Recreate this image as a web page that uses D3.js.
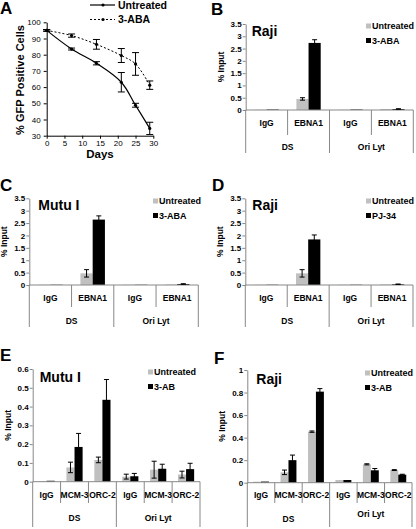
<!DOCTYPE html>
<html><head><meta charset="utf-8">
<script src="https://cdn.jsdelivr.net/npm/d3@7"></script>
<style>body{margin:0;background:#fff}svg{display:block;font-family:Arial,"Liberation Sans",sans-serif}</style>
</head><body><svg id="c" width="416" height="529"></svg>
<script>
// ---- Panel A data ----
const days = [0, 7, 14, 21, 25, 29];
const gfpUntreated = [95, 83.5, 74.7, 63, 48.8, 34.5];
const gfpUntreatedErr = [0.5, 0.6, 1, 6, 1.2, 3.8];
const gfpABA = [95, 91.8, 86.4, 79.5, 74.3, 61.2];
const gfpABAErr = [0.5, 1, 3, 4.3, 7, 2.6];
const gfpYTicks = [30, 40, 50, 60, 70, 80, 90, 100];
const gfpXTicks = [0, 5, 10, 15, 20, 25, 30];

// ---- B/C/D categories ----
const ebnaCats = ["IgG", "EBNA1", "IgG", "EBNA1"];
const groups = ["DS", "Ori Lyt"];
const ebnaYTicks = [0, 0.5, 1, 1.5, 2, 2.5, 3, 3.5];

// B Raji
const bUntreated = [0.01, 0.45, 0.01, 0.04];
const bUntreatedErr = [0, 0.05, 0, 0];
const bABA = [0.02, 2.73, 0.02, 0.04];
const bABAErr = [0, 0.13, 0, 0.01];
// C Mutu I
const cUntreated = [0.01, 0.47, 0.01, 0.02];
const cUntreatedErr = [0, 0.15, 0, 0];
const cABA = [0.01, 2.64, 0.01, 0.04];
const cABAErr = [0, 0.15, 0, 0.01];
// D Raji PJ-34
const dUntreated = [0.01, 0.47, 0.01, 0.02];
const dUntreatedErr = [0, 0.15, 0, 0];
const dPJ = [0.01, 1.84, 0.01, 0.03];
const dPJErr = [0, 0.18, 0, 0.01];

// ---- E/F categories ----
const mcmCats = ["IgG", "MCM-3", "ORC-2", "IgG", "MCM-3", "ORC-2"];
const eYTicks = [0, 0.1, 0.2, 0.3, 0.4, 0.5, 0.6];
const fYTicks = [0, 0.2, 0.4, 0.6, 0.8, 1];
// E Mutu I
const eUntreated = [0.003, 0.076, 0.116, 0.027, 0.064, 0.038];
const eUntreatedErr = [0, 0.028, 0.015, 0.013, 0.045, 0.018];
const eAB = [0.005, 0.185, 0.436, 0.029, 0.069, 0.067];
const eABErr = [0, 0.072, 0.108, 0.015, 0.024, 0.031];
// F Raji
const fUntreated = [0.009, 0.092, 0.453, 0.024, 0.163, 0.112];
const fUntreatedErr = [0, 0.02, 0.006, 0, 0.005, 0.004];
const fAB = [0.01, 0.2, 0.808, 0.024, 0.11, 0.071];
const fABErr = [0, 0.045, 0.027, 0, 0.016, 0.004];

const svg = d3.select("#c");
const GRAY = "#c0c0c0", AX = "#888";

function letter(t, x, y) {
  svg.append("text").attr("x", x).attr("y", y).text(t)
    .attr("font-size", 17).attr("font-weight", "bold");
}

// ================= Panel A =================
(function () {
  const x = d3.scaleLinear().domain([0, 30]).range([46.7, 153.3]);
  const y = d3.scaleLinear().domain([30, 100]).range([135.7, 22.3]);
  const g = svg.append("g");
  g.append("g").attr("transform", "translate(46.7,0)")
    .call(d3.axisLeft(y).tickValues(gfpYTicks).tickSize(3).tickSizeOuter(0))
    .call(a => { a.select(".domain").attr("stroke", "#000"); a.selectAll("text").attr("font-size", 8).attr("font-family", "Arial"); });
  g.append("g").attr("transform", "translate(0,135.7)")
    .call(d3.axisBottom(x).tickValues(gfpXTicks).tickSize(3).tickSizeOuter(0))
    .call(a => { a.select(".domain").attr("stroke", "#000"); a.selectAll("text").attr("font-size", 8).attr("font-family", "Arial").attr("dy", "0.6em"); });
  const line = d3.line().x((d, i) => x(days[i])).y(d => y(d)).curve(d3.curveCatmullRom.alpha(0.5));
  g.append("path").attr("d", line(gfpABA)).attr("fill", "none").attr("stroke", "#000").attr("stroke-width", 1).attr("stroke-dasharray", "2,2");
  g.append("path").attr("d", line(gfpUntreated)).attr("fill", "none").attr("stroke", "#000").attr("stroke-width", 1.2);
  function errs(vals, errv) {
    vals.forEach((v, i) => {
      const cx = x(days[i]), e = errv[i];
      const y1 = y(Math.max(30, v - e)), y2 = y(v + e);
      g.append("line").attr("x1", cx).attr("x2", cx).attr("y1", y1).attr("y2", y2).attr("stroke", "#000");
      [y1, y2].forEach(yy => g.append("line").attr("x1", cx - 3.5).attr("x2", cx + 3.5).attr("y1", yy).attr("y2", yy).attr("stroke", "#000"));
      g.append("circle").attr("cx", cx).attr("cy", y(v)).attr("r", 1.6).attr("fill", "#000");
    });
  }
  errs(gfpUntreated, gfpUntreatedErr);
  errs(gfpABA, gfpABAErr);
  // legend
  g.append("line").attr("x1", 90).attr("x2", 115).attr("y1", 5).attr("y2", 5).attr("stroke", "#000").attr("stroke-width", 1.2);
  g.append("circle").attr("cx", 103).attr("cy", 5).attr("r", 1.6);
  g.append("text").attr("x", 118).attr("y", 8.5).text("Untreated").attr("font-size", 10.5).attr("font-weight", "bold");
  g.append("line").attr("x1", 90).attr("x2", 115).attr("y1", 19.5).attr("y2", 19.5).attr("stroke", "#000").attr("stroke-dasharray", "2,2");
  g.append("circle").attr("cx", 103).attr("cy", 19.5).attr("r", 1.6);
  g.append("text").attr("x", 118).attr("y", 23).text("3-ABA").attr("font-size", 10.5).attr("font-weight", "bold");
  g.append("text").attr("transform", "translate(24,80) rotate(-90)").attr("text-anchor", "middle")
    .text("% GFP Positive Cells").attr("font-size", 11).attr("font-weight", "bold");
  g.append("text").attr("x", 100).attr("y", 158).attr("text-anchor", "middle").text("Days").attr("font-size", 11.5).attr("font-weight", "bold");
})();
letter("A", 0, 14);

// ================= Bar panels =================
function barPanel(o) {
  const g = svg.append("g");
  const cats = o.cats.map((c, i) => i);
  const x = d3.scaleBand().domain(cats).range([o.x0, o.x1]);
  const y = d3.scaleLinear().domain([0, o.ymax]).range([o.y0, o.ytop]);
  const bw = x.bandwidth() * 0.29;
  // y axis
  g.append("g").attr("transform", `translate(${o.x0},0)`)
    .call(d3.axisLeft(y).tickValues(o.yticks).tickSize(3).tickSizeOuter(0).tickFormat(d3.format("")))
    .call(a => { a.select(".domain").attr("stroke", AX); a.selectAll(".tick line").attr("stroke", AX);
      a.selectAll("text").attr("font-size", 8).attr("font-weight", "bold").attr("x", -4); });
  // bars
  const series = [[o.a, o.aErr, GRAY, -1], [o.b, o.bErr, "#000", 0]];
  series.forEach(([vals, errv, col, off]) => {
    g.selectAll(null).data(vals).enter().append("rect")
      .attr("x", (d, i) => x(i) + x.bandwidth() / 2 + off * bw)
      .attr("width", bw).attr("y", d => y(d)).attr("height", d => o.y0 - y(d)).attr("fill", col);
  });
  // baseline
  g.append("line").attr("x1", o.x0).attr("x2", o.x1).attr("y1", o.y0).attr("y2", o.y0).attr("stroke", AX);
  // error bars
  series.forEach(([vals, errv, col, off]) => {
    vals.forEach((v, i) => {
      const e = errv[i]; if (!e) return;
      const cx = x(i) + x.bandwidth() / 2 + off * bw + bw / 2;
      const y1 = y(v - e), y2 = y(v + e);
      g.append("line").attr("x1", cx).attr("x2", cx).attr("y1", y1).attr("y2", y2).attr("stroke", "#000").attr("stroke-width", 1);
      [y1, y2].forEach(yy => g.append("line").attr("x1", cx - 2.5).attr("x2", cx + 2.5).attr("y1", yy).attr("y2", yy).attr("stroke", "#000").attr("stroke-width", 1));
    });
  });
  // category separators
  const n = o.cats.length, per = n / 2;
  for (let i = 0; i <= n; i++) {
    const xx = i === n ? o.x1 : x(i);
    const full = i % per === 0;
    g.append("line").attr("x1", xx).attr("x2", xx).attr("y1", o.y0).attr("y2", full ? o.outerY : o.innerY).attr("stroke", AX);
  }
  o.cats.forEach((c, i) => g.append("text").attr("x", x(i) + x.bandwidth() / 2).attr("y", o.catY)
    .attr("text-anchor", "middle").attr("font-size", 8.5).attr("font-weight", "bold").text(c));
  groups.forEach((gname, j) => {
    const gx = (x(j * per) + (j === 1 ? o.x1 : x(per))) / 2;
    g.append("text").attr("x", gx).attr("y", o.groupY[j]).attr("text-anchor", "middle")
      .attr("font-size", 8.5).attr("font-weight", "bold").text(gname);
  });
  // title & legend
  g.append("text").attr("x", o.x0 + o.titleDx).attr("y", o.ytop + o.titleDy).text(o.title).attr("font-size", 14).attr("font-weight", "bold");
  [[GRAY, "Untreated", 0], ["#000", o.bName, 14.5]].forEach(([col, name, dy]) => {
    g.append("rect").attr("x", o.legX).attr("y", o.ytop + o.legDy + dy - 2.5).attr("width", 5).attr("height", 5).attr("fill", col);
    g.append("text").attr("x", o.legX + 6).attr("y", o.ytop + o.legDy + dy + 3.3).text(name).attr("font-size", 9).attr("font-weight", "bold");
  });
  g.append("text").attr("transform", `translate(${o.x0 - 22},${(o.y0 + o.ytop) / 2}) rotate(-90)`)
    .attr("text-anchor", "middle").attr("font-size", 8.5).attr("font-weight", "bold").text("% Input");
}

barPanel({ cats: ebnaCats, a: bUntreated, aErr: bUntreatedErr, b: bABA, bErr: bABAErr, bName: "3-ABA", title: "Raji",
  x0: 245.7, x1: 413.3, y0: 110, ytop: 24, ymax: 3.5, yticks: ebnaYTicks,
  catY: 125.5, innerY: 135, outerY: 153, groupY: [149.5, 149.5], titleDx: 6, titleDy: 11.5, legX: 366, legDy: 2 });
letter("B", 211, 15);

barPanel({ cats: ebnaCats, a: cUntreated, aErr: cUntreatedErr, b: cABA, bErr: cABAErr, bName: "3-ABA", title: "Mutu I",
  x0: 29.3, x1: 198.3, y0: 285, ytop: 198.3, ymax: 3.5, yticks: ebnaYTicks,
  catY: 301, innerY: 307, outerY: 327, groupY: [323.5, 323.5], titleDx: 9, titleDy: 12, legX: 153, legDy: 2.7 });
letter("C", 0, 191);

barPanel({ cats: ebnaCats, a: dUntreated, aErr: dUntreatedErr, b: dPJ, bErr: dPJErr, bName: "PJ-34", title: "Raji",
  x0: 245.3, x1: 413, y0: 285, ytop: 198.3, ymax: 3.5, yticks: ebnaYTicks,
  catY: 301, innerY: 307, outerY: 327, groupY: [323.5, 323.5], titleDx: 7, titleDy: 12, legX: 366, legDy: 2.7 });
letter("D", 212, 191);

barPanel({ cats: mcmCats, a: eUntreated, aErr: eUntreatedErr, b: eAB, bErr: eABErr, bName: "3-AB", title: "Mutu I",
  x0: 32.7, x1: 200, y0: 481.7, ytop: 369, ymax: 0.6, yticks: eYTicks,
  catY: 498, innerY: 503, outerY: 527, groupY: [520.5, 520.5], titleDx: 7, titleDy: 12.5, legX: 148, legDy: 3 });
letter("E", 0, 361);

barPanel({ cats: mcmCats, a: fUntreated, aErr: fUntreatedErr, b: fAB, bErr: fABErr, bName: "3-AB", title: "Raji",
  x0: 247.3, x1: 412, y0: 482.7, ytop: 370, ymax: 1, yticks: fYTicks,
  catY: 498, innerY: 503, outerY: 527, groupY: [522, 517], titleDx: 9, titleDy: 14, legX: 365, legDy: 3 });
letter("F", 214, 364);
</script></body></html>
